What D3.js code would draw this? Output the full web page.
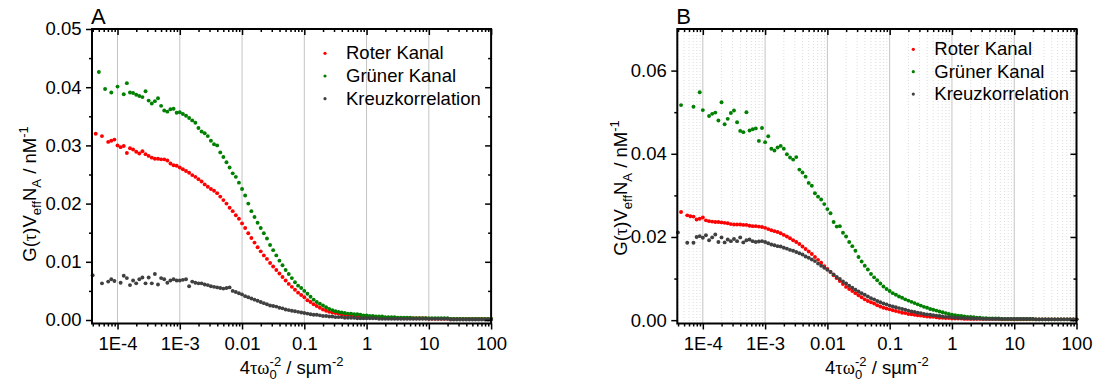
<!DOCTYPE html>
<html>
<head>
<meta charset="utf-8">
<script src="https://cdn.jsdelivr.net/npm/d3@7"></script>
<style>
  html, body { margin: 0; padding: 0; background: #fff; }
  svg { display: block; font-family: "Liberation Sans", Arial, sans-serif; }
</style>
</head>
<body>
<svg width="1099" height="385"></svg>
<script>
(function () {
    'use strict';

    // lag positions, log10 of 4*tau/w0^2 (shared by all series of a panel)
    const lagExp = [
        -4.40, -4.35, -4.30, -4.25, -4.20, -4.15, -4.10, -4.05, -4.00, -3.95,
        -3.90, -3.85, -3.80, -3.75, -3.70, -3.65, -3.60, -3.55, -3.50, -3.45,
        -3.40, -3.35, -3.30, -3.25, -3.20, -3.15, -3.10, -3.05, -3.00, -2.95,
        -2.90, -2.85, -2.80, -2.75, -2.70, -2.65, -2.60, -2.55, -2.50, -2.45,
        -2.40, -2.35, -2.30, -2.25, -2.20, -2.15, -2.10, -2.05, -2.00, -1.95,
        -1.90, -1.85, -1.80, -1.75, -1.70, -1.65, -1.60, -1.55, -1.50, -1.45,
        -1.40, -1.35, -1.30, -1.25, -1.20, -1.15, -1.10, -1.05, -1.00, -0.95,
        -0.90, -0.85, -0.80, -0.75, -0.70, -0.65, -0.60, -0.55, -0.50, -0.45,
        -0.40, -0.35, -0.30, -0.25, -0.20, -0.15, -0.10, -0.05, 0.00, 0.05,
        0.10, 0.15, 0.20, 0.25, 0.30, 0.35, 0.40, 0.45, 0.50, 0.55,
        0.60, 0.65, 0.70, 0.75, 0.80, 0.85, 0.90, 0.95, 1.00, 1.05,
        1.10, 1.15, 1.20, 1.25, 1.30, 1.35, 1.40, 1.45, 1.50, 1.55,
        1.60, 1.65, 1.70, 1.75, 1.80, 1.85, 1.90, 1.95, 2.00
    ];

    const seriesNames = ['Roter Kanal', 'Grüner Kanal', 'Kreuzkorrelation'];

    // panel A
    const redA = [
        null, .0320, null, .0316, null, .0306, .0308, .0310, .0300, .0297,
        .0299, .0287, .0295, .0293, .0289, .0286, .0290, .0285, .0282, .0279,
        .0277, .0277, .0276, .0276, .0274, .0269, .0266, .0265, .0262, .0259,
        .0256, .0253, .0249, .0246, .0242, .0238, .0233, .0229, .0225, .0222,
        .0218, .0212, .0206, .0200, .0193, .0187, .0180, .0174, .0166, .0158,
        .0149, .0141, .0133, .0125, .0118, .0111, .0105, .0098, .0092, .0086,
        .0080, .0074, .0068, .0062, .0057, .0052, .0047, .0043, .0039, .0034,
        .0031, .0027, .0024, .0021, .0018, .0016, .0014, .0013, .0012, .0011,
        .0010, .0009, .0008, .0008, .0007, .0007, .0006, .0006, .0005, .0005,
        .0005, .0005, .0004, .0004, .0004, .0004, .0004, .0003, .0003, .0003,
        .0003, .0003, .0003, .0003, .0003, .0003, .0003, .0003, .0002, .0002,
        .0002, .0002, .0002, .0002, .0002, .0002, .0002, .0002, .0002, .0002,
        .0002, .0002, .0002, .0002, .0002, .0002, .0002, .0002, .0002
    ];
    const greenA = [
        null, null, .0426, null, .0397, null, .0391, null, .0401, null,
        .0388, .0407, .0391, .0390, .0387, .0385, .0383, .0393, .0377, .0372,
        .0376, .0381, .0368, .0360, .0358, .0362, .0363, .0356, .0357, .0354,
        .0351, .0347, .0343, .0339, .0330, .0324, .0321, .0316, .0308, .0302,
        .0300, .0288, .0280, .0271, .0262, .0252, .0246, .0236, .0225, .0214,
        .0200, .0187, .0177, .0167, .0158, .0149, .0140, .0129, .0120, .0111,
        .0102, .0094, .0086, .0079, .0072, .0065, .0059, .0055, .0050, .0045,
        .0040, .0035, .0031, .0028, .0025, .0022, .0019, .0017, .0015, .0014,
        .0013, .0012, .0011, .0011, .0010, .0010, .0009, .0008, .0008, .0007,
        .0007, .0006, .0006, .0006, .0005, .0005, .0005, .0005, .0004, .0004,
        .0004, .0004, .0004, .0003, .0003, .0003, .0003, .0003, .0003, .0003,
        .0003, .0003, .0003, .0003, .0003, .0002, .0002, .0002, .0002, .0002,
        .0002, .0002, .0002, .0002, .0002, .0002, .0002, .0002, .0002
    ];
    const crossA = [
        .0077, null, null, .0063, null, .0066, .0070, .0067, null, .0064,
        .0076, .0072, .0060, .0068, .0063, .0070, .0073, .0063, .0073, .0063,
        .0079, .0061, .0072, .0070, .0064, .0068, .0070, .0068, .0068, .0069,
        .0070, .0058, .0066, .0064, .0063, .0063, .0061, .0060, .0058, .0057,
        .0056, .0055, .0054, .0055, .0056, .0050, .0048, .0046, .0044, .0041,
        .0039, .0037, .0035, .0033, .0031, .0029, .0027, .0025, .0024, .0023,
        .0021, .0020, .0018, .0017, .0016, .0015, .0014, .0013, .0012, .0011,
        .0010, .0009, .0009, .0008, .0007, .0007, .0006, .0006, .0005, .0005,
        .0005, .0004, .0004, .0004, .0004, .0003, .0003, .0003, .0003, .0003,
        .0003, .0003, .0002, .0002, .0002, .0002, .0002, .0002, .0002, .0002,
        .0002, .0002, .0002, .0002, .0002, .0002, .0002, .0002, .0002, .0002,
        .0002, .0002, .0002, .0002, .0002, .0001, .0001, .0001, .0001, .0001,
        .0001, .0001, .0001, .0001, .0001, .0001, .0001, .0001, .0001
    ];

    // panel B
    const redB = [
        null, .0260, null, .0252, .0250, .0249, .0242, .0244, .0247, .0240,
        .0238, .0237, .0236, .0236, .0235, .0234, .0233, .0231, .0230, .0230,
        .0230, .0229, .0229, .0227, .0226, .0226, .0225, .0224, .0222, .0219,
        .0216, .0214, .0212, .0209, .0205, .0201, .0197, .0192, .0188, .0183,
        .0177, .0171, .0165, .0159, .0152, .0145, .0138, .0130, .0123, .0116,
        .0108, .0101, .0094, .0087, .0080, .0075, .0070, .0065, .0060, .0055,
        .0050, .0046, .0043, .0040, .0036, .0033, .0030, .0028, .0026, .0024,
        .0022, .0020, .0018, .0017, .0015, .0014, .0013, .0012, .0011, .0010,
        .0009, .0008, .0008, .0007, .0006, .0006, .0005, .0005, .0004, .0004,
        .0004, .0004, .0003, .0003, .0003, .0003, .0003, .0003, .0003, .0003,
        .0003, .0003, .0003, .0003, .0002, .0002, .0002, .0002, .0002, .0002,
        .0002, .0002, .0002, .0002, .0002, .0002, .0002, .0002, .0002, .0002,
        .0002, .0002, .0002, .0002, .0002, .0002, .0002, .0002, .0002
    ];
    const greenB = [
        null, .0517, null, null, null, .0513, null, .0548, .0505, null,
        .0491, .0496, .0499, .0480, .0524, .0471, .0484, .0498, .0504, .0476,
        .0455, .0452, .0500, .0456, .0459, .0461, .0431, .0462, .0428, .0442,
        .0412, .0408, .0415, .0419, .0412, .0399, .0391, .0386, .0392, .0362,
        .0355, .0345, .0330, .0323, .0305, .0297, .0290, .0279, .0267, .0257,
        .0236, .0225, .0226, .0210, .0201, .0188, .0178, .0167, .0152, .0141,
        .0131, .0122, .0111, .0103, .0096, .0088, .0081, .0075, .0070, .0065,
        .0061, .0057, .0054, .0050, .0047, .0044, .0041, .0038, .0035, .0032,
        .0030, .0027, .0025, .0023, .0021, .0019, .0017, .0015, .0013, .0012,
        .0011, .0010, .0009, .0008, .0008, .0007, .0006, .0006, .0005, .0005,
        .0004, .0004, .0004, .0004, .0003, .0003, .0003, .0003, .0003, .0003,
        .0003, .0003, .0003, .0003, .0003, .0002, .0002, .0002, .0002, .0002,
        .0002, .0002, .0002, .0002, .0002, .0002, .0002, .0002, .0002
    ];
    const crossB = [
        .0211, null, null, .0186, null, .0186, .0200, .0202, .0198, .0204,
        .0192, .0199, .0206, .0188, .0199, .0187, .0194, .0190, .0195, .0190,
        .0199, .0187, .0192, .0194, .0190, .0188, .0189, .0190, .0188, .0185,
        .0182, .0180, .0178, .0177, .0174, .0172, .0169, .0167, .0164, .0161,
        .0158, .0153, .0150, .0146, .0142, .0136, .0131, .0126, .0121, .0116,
        .0110, .0104, .0099, .0093, .0088, .0083, .0078, .0073, .0069, .0065,
        .0061, .0057, .0053, .0050, .0046, .0043, .0040, .0038, .0035, .0033,
        .0031, .0029, .0027, .0025, .0023, .0021, .0020, .0018, .0017, .0015,
        .0014, .0013, .0012, .0011, .0010, .0009, .0008, .0008, .0007, .0006,
        .0006, .0005, .0005, .0005, .0004, .0004, .0004, .0004, .0003, .0003,
        .0003, .0003, .0003, .0003, .0003, .0003, .0003, .0003, .0003, .0003,
        .0003, .0003, .0003, .0003, .0003, .0002, .0002, .0002, .0002, .0002,
        .0002, .0002, .0002, .0002, .0002, .0002, .0002, .0002, .0002
    ];

    const xTickValues = [1e-4, 1e-3, 1e-2, 1e-1, 1, 10, 100];
    const xTickLabels = ['1E-4', '1E-3', '0.01', '0.1', '1', '10', '100'];

    const yTicksA = [0, 0.01, 0.02, 0.03, 0.04, 0.05];
    const yLabelsA = ['0.00', '0.01', '0.02', '0.03', '0.04', '0.05'];
    const yMinorA = [0.005, 0.015, 0.025, 0.035, 0.045];

    const yTicksB = [0, 0.02, 0.04, 0.06];
    const yLabelsB = ['0.00', '0.02', '0.04', '0.06'];
    const yMinorB = [0.01, 0.03, 0.05];

    const colors = ['#ff0000', '#008000', '#404040'];
    const fs = 18.5;
    const top = 29;
    const bottom = 323.5;

    const panels = [
        { label: 'A', left: 92, right: 491.1, yDomain: [-0.0006, 0.05],
          series: [redA, greenA, crossA], yTicks: yTicksA, yLabels: yLabelsA, yMinor: yMinorA,
          minorGrid: false, legend: { x: 325, y: 53.3, dy: 22.7 }, yTitle: { x: 35.5, y: 194 } },
        { label: 'B', left: 677.3, right: 1076.5, yDomain: [-0.0008, 0.07],
          series: [redB, greenB, crossB], yTicks: yTicksB, yLabels: yLabelsB, yMinor: yMinorB,
          minorGrid: true, legend: { x: 913.3, y: 49.3, dy: 22.4 }, yTitle: { x: 626.5, y: 188 } }
    ];

    const svg = d3.select('svg');

    const isDecade = t => Math.abs(Math.log10(t) - Math.round(Math.log10(t))) < 1e-6;

    const styleAxis = g => g
        .attr('font-size', fs)
        .attr('font-family', null)
        .call(g => g.select('.domain').remove())
        .call(g => g.selectAll('.tick line').attr('stroke', '#000').attr('stroke-width', 1.5))
        .call(g => g.selectAll('.tick text').attr('fill', '#000'));

    function drawPanel(p) {
        const x = d3.scaleLog()
            .domain([10 ** -4.41, 100])
            .range([p.left, p.right]);

        const y = d3.scaleLinear()
            .domain(p.yDomain)
            .range([bottom, top]);

        const minorX = x.ticks().filter(t => !isDecade(t));

        const g = svg.append('g');

        // grid
        if (p.minorGrid) {
            g.append('g').selectAll('line')
                .data(minorX)
                .join('line')
                .attr('x1', d => x(d)).attr('x2', d => x(d))
                .attr('y1', top).attr('y2', bottom)
                .attr('stroke', '#d4d4d4')
                .attr('stroke-width', 0.8)
                .attr('stroke-dasharray', '1,2');
        }
        g.append('g').selectAll('line')
            .data(xTickValues.slice(0, -1))
            .join('line')
            .attr('x1', d => x(d)).attr('x2', d => x(d))
            .attr('y1', top).attr('y2', bottom)
            .attr('stroke', '#c4c4c4')
            .attr('stroke-width', 1);

        // points
        p.series.forEach((vals, i) => {
            const pts = lagExp.map((e, j) => [10 ** e, vals[j]]).filter(d => d[1] !== null);
            g.append('g').selectAll('circle')
                .data(pts)
                .join('circle')
                .attr('cx', d => x(d[0]))
                .attr('cy', d => y(d[1]))
                .attr('r', 1.95)
                .attr('fill', colors[i]);
        });

        // axes
        g.append('g')
            .attr('transform', `translate(0,${bottom})`)
            .call(d3.axisBottom(x).tickValues(minorX).tickSize(3).tickFormat(''))
            .call(styleAxis);
        g.append('g')
            .attr('transform', `translate(0,${bottom})`)
            .call(d3.axisBottom(x).tickValues(xTickValues).tickSize(6).tickPadding(7)
                .tickFormat((d, i) => xTickLabels[i]))
            .call(styleAxis);

        g.append('g')
            .attr('transform', `translate(0,${top})`)
            .call(d3.axisTop(x).tickValues(minorX).tickSize(-3).tickFormat(''))
            .call(styleAxis);
        g.append('g')
            .attr('transform', `translate(0,${top})`)
            .call(d3.axisTop(x).tickValues(xTickValues).tickSize(-6).tickFormat(''))
            .call(styleAxis);

        g.append('g')
            .attr('transform', `translate(${p.left},0)`)
            .call(d3.axisLeft(y).tickValues(p.yMinor).tickSize(3).tickFormat(''))
            .call(styleAxis);
        g.append('g')
            .attr('transform', `translate(${p.left},0)`)
            .call(d3.axisLeft(y).tickValues(p.yTicks).tickSize(6).tickPadding(4.5)
                .tickFormat((d, i) => p.yLabels[i]))
            .call(styleAxis);

        g.append('g')
            .attr('transform', `translate(${p.right},0)`)
            .call(d3.axisRight(y).tickValues(p.yMinor).tickSize(-3).tickFormat(''))
            .call(styleAxis);
        g.append('g')
            .attr('transform', `translate(${p.right},0)`)
            .call(d3.axisRight(y).tickValues(p.yTicks).tickSize(-6).tickFormat(''))
            .call(styleAxis);

        // frame
        g.append('rect')
            .attr('x', p.left).attr('y', top)
            .attr('width', p.right - p.left).attr('height', bottom - top)
            .attr('fill', 'none')
            .attr('stroke', '#000')
            .attr('stroke-width', 2);

        // panel letter
        g.append('text')
            .attr('x', p.left - 1).attr('y', 24)
            .attr('font-size', 22)
            .text(p.label);

        // legend
        const lg = g.append('g').attr('font-size', fs);
        seriesNames.forEach((name, i) => {
            const ly = p.legend.y + i * p.legend.dy;
            lg.append('circle')
                .attr('cx', p.legend.x).attr('cy', ly)
                .attr('r', 1.6)
                .attr('fill', colors[i]);
            lg.append('text')
                .attr('x', p.legend.x + 21).attr('y', ly + 6)
                .text(name);
        });

        // x title: 4 tau omega_0^-2 / s um^-2
        const xt = g.append('text')
            .attr('x', (p.left + p.right) / 2)
            .attr('y', 374)
            .attr('text-anchor', 'middle')
            .attr('font-size', fs);
        xt.append('tspan').text('4');
        xt.append('tspan').attr('font-family', '"Liberation Serif", serif').text('τω');
        xt.append('tspan').attr('font-size', 13).attr('dy', 5).text('0');
        xt.append('tspan').attr('font-size', 13).attr('dx', -7.2).attr('dy', -13).text('-2');
        xt.append('tspan').attr('dy', 8).text(' / sµm');
        xt.append('tspan').attr('font-size', 13).attr('dy', -8).text('-2');

        // y title: G(tau) V_eff N_A / nM^-1
        const yt = g.append('text')
            .attr('transform', `translate(${p.yTitle.x},${p.yTitle.y}) rotate(-90)`)
            .attr('text-anchor', 'middle')
            .attr('font-size', fs);
        yt.append('tspan').text('G(');
        yt.append('tspan').attr('font-family', '"Liberation Serif", serif').text('τ');
        yt.append('tspan').text(')V');
        yt.append('tspan').attr('font-size', 13).attr('dy', 5).text('eff');
        yt.append('tspan').attr('dy', -5).text('N');
        yt.append('tspan').attr('font-size', 13).attr('dy', 5).text('A');
        yt.append('tspan').attr('dy', -5).text(' / nM');
        yt.append('tspan').attr('font-size', 13).attr('dy', -8).text('-1');
    }

    panels.forEach(drawPanel);
})();
</script>
</body>
</html>
